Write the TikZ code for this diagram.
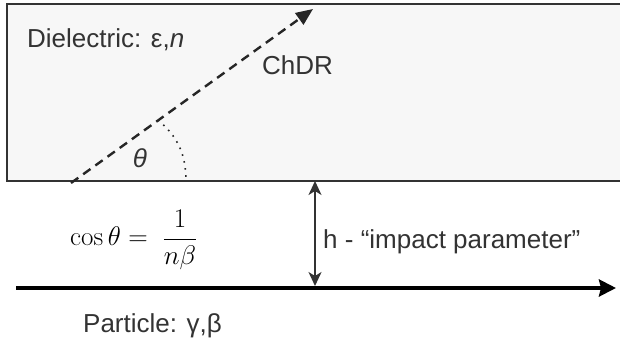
\RequirePackage{fix-cm}
\documentclass[tikz,border=0pt]{standalone}
\usepackage[no-math]{fontspec}
\setmainfont{Liberation Sans}
\usepackage{amsmath}
\usepackage{tikz}
\usetikzlibrary{arrows.meta}
\definecolor{txtgray}{HTML}{333333}
\definecolor{slabfill}{HTML}{F7F7F7}
\tikzset{
  lbl/.style={inner sep=0pt, anchor=base west, text=txtgray, font=\fontsize{26}{31}\selectfont},
  slab/.style={draw=txtgray, line width=1.5pt, fill=slabfill},
  ray/.style={dash pattern=on 9pt off 6pt, line width=2.4pt, draw=black!85, -{Triangle[length=17pt,width=14pt]}},
  angarc/.style={dash pattern=on 1.6pt off 5.5pt, line width=1.6pt, draw=black!85},
  gap/.style={{Stealth[length=14pt,width=13pt,inset=4pt]}-{Stealth[length=14pt,width=13pt,inset=4pt]}, line width=1.6pt, draw=txtgray},
  beam/.style={-{Stealth[length=17pt,width=17pt,inset=2pt]}, line width=4pt, draw=black},
}
\begin{document}
\begin{tikzpicture}[x=1pt,y=1pt]
\useasboundingbox (0,0) rectangle (620,338);
\fill[slabfill] (7,157) rectangle (620,334);
\draw[slab, fill=none] (620,334) -- (7,334) -- (7,157) -- (620,157);
\node[lbl] (diel) at (27,290) {Dielectric: ε,\textit{n}};
\node[lbl] (chdr) at (262,263) {ChDR};
\coordinate (rayS) at (71,155);
\coordinate (rayE) at (313,329);
\coordinate (arcA) at (158,218);
\coordinate (arcB) at (186,157);
\draw[ray] (rayS) -- (rayE);
\draw[angarc] (arcA) to[out=-40,in=90] (arcB);
\node[lbl, anchor=center] (theta) at (140,180) {\itshape θ};
\node[lbl, anchor=west, text=black, font=\fontsize{27}{32}\selectfont] (cosf) at (70,98) {$\displaystyle \cos\theta = \;\frac{1}{n\beta}$};
\coordinate (hTop) at (315,157);
\coordinate (hBot) at (315,52);
\draw[gap] (hTop) -- (hBot);
\node[lbl] (hlbl) at (323,90) {h - “impact parameter”};
\coordinate (beamS) at (16,50);
\coordinate (beamE) at (616,50);
\draw[beam] (beamS) -- (beamE);
\node[lbl] (part) at (83,6) {Particle: γ,β};
\end{tikzpicture}
\end{document}
